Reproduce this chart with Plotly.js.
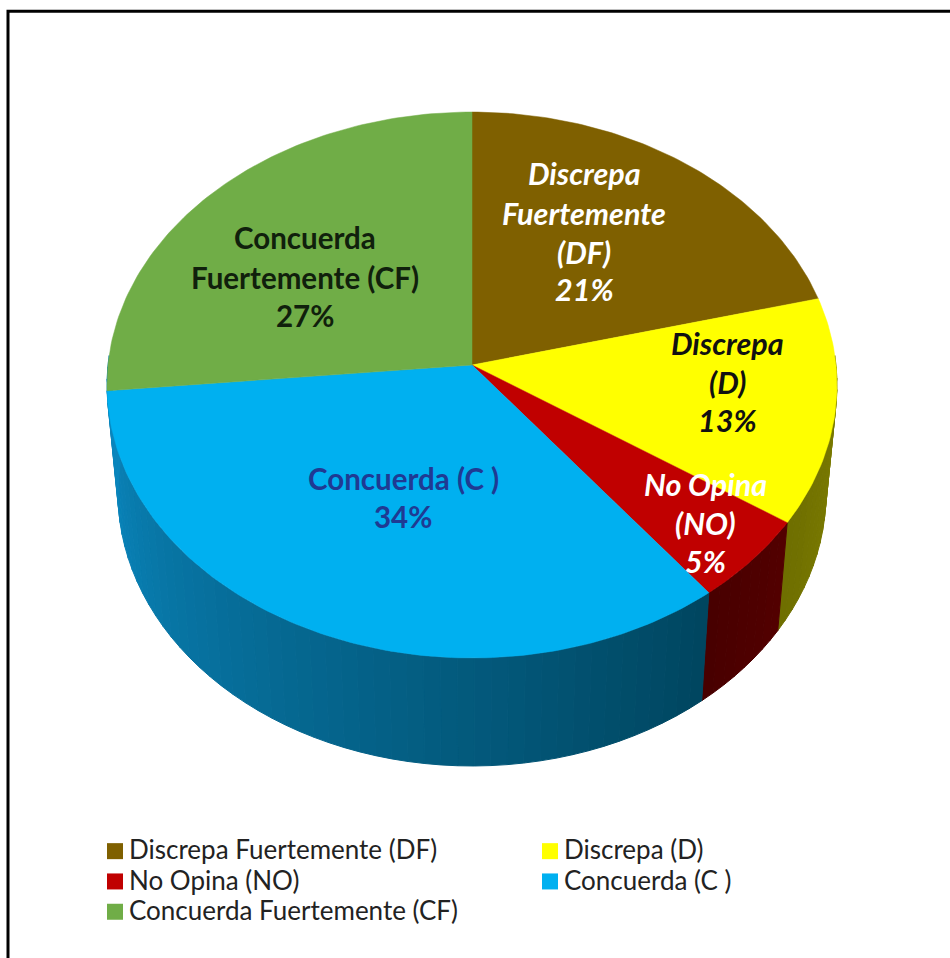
<!DOCTYPE html>
<html><head><meta charset="utf-8">
<script src="https://cdn.plot.ly/plotly-3.0.1.min.js"></script>
<style>html,body{margin:0;padding:0;background:#fff;overflow:hidden}
.legendtext{font-size:26px !important;transform:translateX(-6px)}</style>
</head><body><div id="chart" style="width:950px;height:958px"></div>
<script>
// ---- data ----
const categories = ["Discrepa Fuertemente (DF)","Discrepa (D)","No Opina (NO)","Concuerda (C )","Concuerda Fuertemente (CF)"];
const shares = [21, 13.4, 5.1, 34, 26.5];
const sliceColors = ["#7f6000","#ffff00","#c00000","#00b0f0","#70ad47"];
// wall shading: colour on the left and right end of the visible wall
const wallColorsLeft = ["#5c4600","#7f7f00","#520000","#0a86bd","#0a86bd"];
const wallColorsRight = ["#5c4600","#6e6e00","#470000","#004660","#0a86bd"];
const labelLines = [["Discrepa","Fuertemente","(DF)"],["Discrepa","(D)"],["No Opina","(NO)"],["Concuerda (C )"],["Concuerda","Fuertemente (CF)"]];

// ---- layout of the drawing ----
const cx=472, apexY=365, R=364, S=271.5, k=0.0733, depth=108, bottomScale=0.97;
function topPt(deg){const t=deg*Math.PI/180,u=Math.sin(t),v=Math.cos(t),w=1+k*v;return [cx+R*u/w,apexY-S*v/w];}
function botPt(deg){const p=topPt(deg);return [cx+(p[0]-cx)*bottomScale,p[1]+depth];}
function hex(c){return [1,3,5].map(i=>parseInt(c.substr(i,2),16));}
function mix(a,b,f){const A=hex(a),B=hex(b);return "rgb("+A.map((v,i)=>Math.round(v+(B[i]-v)*f)).join(",")+")";}

const total=shares.reduce((a,b)=>a+b,0);
let cum=0;
const spans=shares.map(v=>{const s=[cum/total*360,(cum+v)/total*360];cum+=v;return s;});
const traces=[];

// walls (front half of the cylinder)
spans.forEach((sp,i)=>{
  const a=Math.max(sp[0],88), b=Math.min(sp[1],272);
  if(b<=a) return;
  const step=2.5, n=Math.max(1,Math.ceil((b-a)/step));
  for(let j=0;j<n;j++){
    const d0=a+(b-a)*j/n, d1=a+(b-a)*(j+1)/n;
    const p0=topPt(d0),p1=topPt(d1),q1=botPt(d1),q0=botPt(d0);
    const f=j/n;
    const col=mix(i===3?wallColorsRight[i]:wallColorsLeft[i],i===3?wallColorsLeft[i]:wallColorsRight[i],f);
    traces.push({type:"scatter",mode:"lines",x:[p0[0],p1[0],q1[0],q0[0],p0[0]],y:[p0[1],p1[1],q1[1],q0[1],p0[1]],
      fill:"toself",fillcolor:col,line:{color:col,width:1},showlegend:false,hoverinfo:"skip"});
  }
});

// top face
spans.forEach((sp,i)=>{
  const xs=[cx],ys=[apexY];
  const n=Math.ceil((sp[1]-sp[0])/1);
  for(let j=0;j<=n;j++){const p=topPt(sp[0]+(sp[1]-sp[0])*j/n);xs.push(p[0]);ys.push(p[1]);}
  xs.push(cx);ys.push(apexY);
  traces.push({type:"scatter",mode:"lines",x:xs,y:ys,fill:"toself",fillcolor:sliceColors[i],
    line:{color:sliceColors[i],width:0.5},showlegend:false,name:categories[i],hoverinfo:"name"});
});

// legend entries
categories.forEach((c,i)=>{
  traces.push({type:"scatter",mode:"markers",x:[null],y:[null],name:c,
    marker:{symbol:"square",size:16,color:sliceColors[i]}});
});

// labels on the slices
const labelStyle=[
 {x:584,y:[172.5,212.5,251.5,289],color:"#ffffff",italic:true},
 {x:727,y:[343,382,420],color:"#111111",italic:true},
 {x:705,y:[484,523,561],color:"#ffffff",italic:true},
 {x:403,y:[478,516],color:"#1f3a93",italic:false},
 {x:305,y:[237,277,315],color:"#10200c",italic:false}
];
const annotations=[];
labelLines.forEach((lines,i)=>{
  const st=labelStyle[i];
  lines.concat([Math.round(shares[i])+"%"]).forEach((t,j)=>{
    annotations.push({xref:"x",yref:"y",x:st.x,y:st.y[j],text:"<b>"+(st.italic?"<i>"+t+"</i>":t)+"</b>",
      showarrow:false,xanchor:"center",yanchor:"middle",font:{family:"Lato",size:st.italic?30.5:29.5,color:st.color}});
  });
});

const layout={width:950,height:958,margin:{l:0,r:0,t:0,b:0,pad:0,autoexpand:false},paper_bgcolor:"#fff",plot_bgcolor:"#fff",
  xaxis:{range:[0,950],visible:false,fixedrange:true},
  yaxis:{range:[958,0],visible:false,fixedrange:true},
  font:{family:"Lato",color:"#222"},
  hovermode:"closest",
  showlegend:true,
  legend:{orientation:"h",x:95/950,y:1-831/958,xanchor:"left",yanchor:"top",traceorder:"normal",
    entrywidth:390,entrywidthmode:"pixels",itemwidth:30,
    font:{family:"Lato",size:21,color:"#222"},bgcolor:"rgba(0,0,0,0)",itemclick:false,itemdoubleclick:false},
  shapes:[{type:"rect",xref:"x",yref:"y",x0:8,y0:11.3,x1:1000,y1:1000,line:{color:"#000",width:3},fillcolor:"rgba(0,0,0,0)"}],
  annotations:annotations
};
Plotly.newPlot("chart",traces,layout,{displayModeBar:false,responsive:false});
</script></body></html>
